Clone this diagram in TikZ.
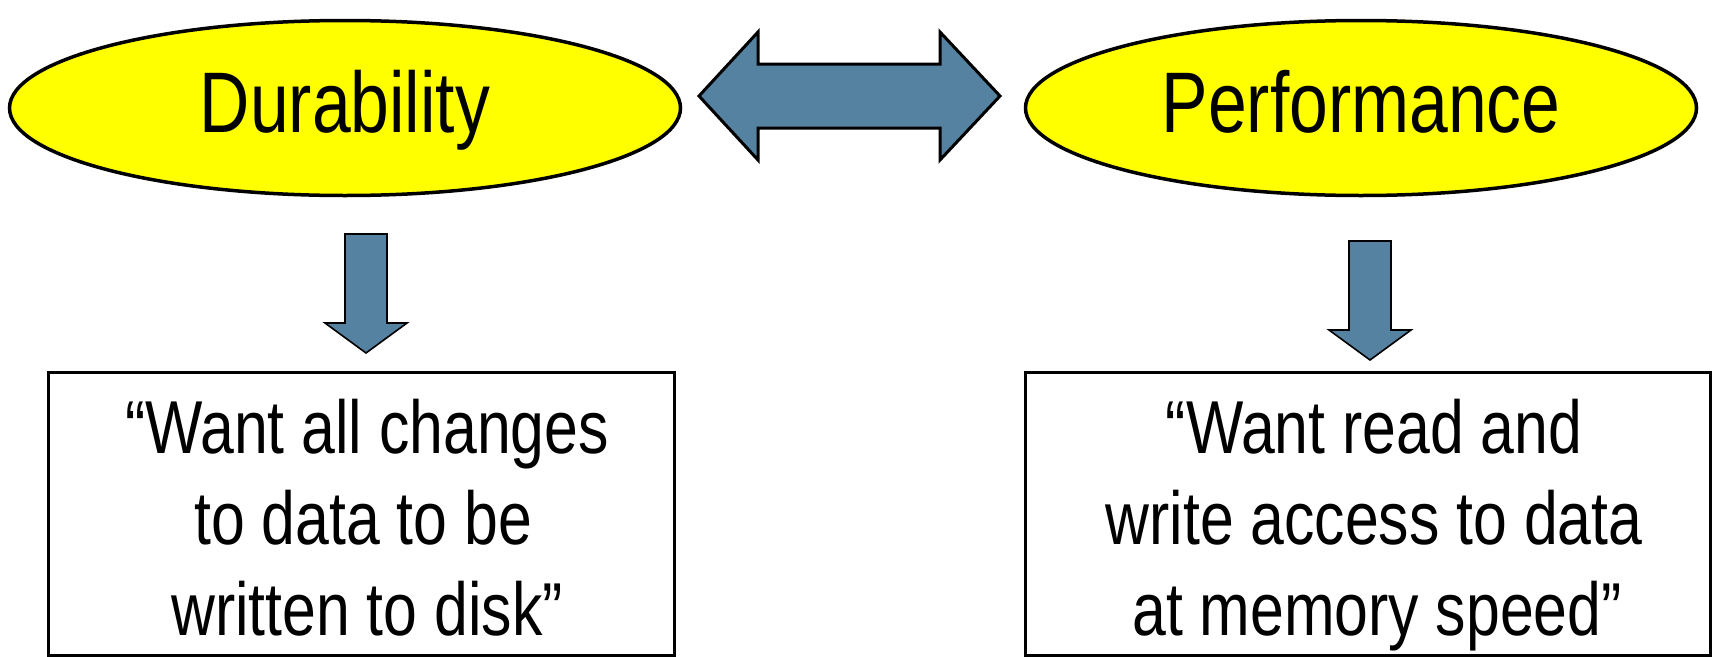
\documentclass[tikz,border=0pt]{standalone}
\usepackage{fontspec}
\setmainfont{Liberation Sans}
\newfontfamily\narrowfont[FakeStretch=0.81]{Liberation Sans}
\usetikzlibrary{shapes.geometric}
\definecolor{arrowblue}{RGB}{84,130,160}
\definecolor{goalyellow}{RGB}{255,255,0}
\tikzset{
  goal/.style={ellipse, draw=black, line width=3.5pt, fill=goalyellow, inner sep=0pt,
    minimum width=671pt, minimum height=175pt, text height=48pt, text depth=0pt,
    font=\narrowfont\fontsize{86}{100}\selectfont},
  quotebox/.style={rectangle, draw=black, line width=3pt, inner sep=0pt},
  quoteline/.style={anchor=base, inner sep=0pt, font=\narrowfont\fontsize{75}{92}\selectfont},
  bigarrow/.style={draw=black, fill=arrowblue, line width=3pt, line join=miter},
  downarrow/.style={draw=black, fill=arrowblue, line width=1.6pt, line join=miter}
}
\begin{document}
\begin{tikzpicture}[x=1pt,y=-1pt]
\useasboundingbox (0,0) rectangle (1721,656);

% the two competing goals
\node[goal] (dur) at (345,108) {Durability};
\node[goal] (perf) at (1361,108) {Performance};

% trade-off between them
\draw[bigarrow] (699,96) -- (758,32) -- (758,64) -- (940,64) -- (940,32)
  -- (1000,96) -- (940,160) -- (940,128) -- (758,128) -- (758,160) -- cycle;

% what each goal asks for
\node[quotebox, minimum width=626pt, minimum height=283pt] (durbox) at (361,513.5) {};
\node[quotebox, minimum width=685pt, minimum height=283pt] (perfbox) at (1367.5,513.5) {};

\node[quoteline] (d1) at (367,453) {“Want all changes};
\node[quoteline] (d2) at (363,544) {to data to be};
\node[quoteline] (d3) at (367,635) {written to disk”};

\node[quoteline] (p1) at (1374,453) {“Want read and};
\node[quoteline] (p2) at (1374,544) {write access to data};
\node[quoteline] (p3) at (1377,635) {at memory speed”};

% downward block arrows
\draw[downarrow] (345,234) -- (387,234) -- (387,323) -- (407,323) -- (366,353)
  -- (325,323) -- (345,323) -- cycle;
\draw[downarrow] (1349,241) -- (1391,241) -- (1391,330) -- (1411,330) -- (1370,360)
  -- (1329,330) -- (1349,330) -- cycle;
\end{tikzpicture}
\end{document}
